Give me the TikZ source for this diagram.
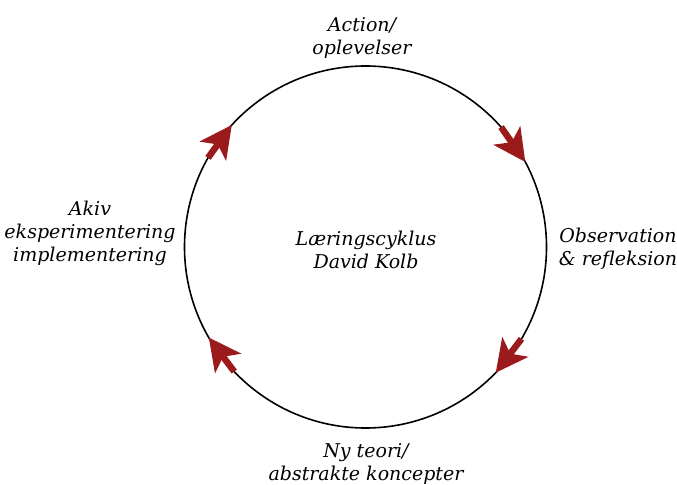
\documentclass[tikz,border=0pt]{standalone}
\usepackage{fontspec}
\setmainfont{DejaVu Serif}
\usetikzlibrary{arrows.meta}
\definecolor{arrred}{HTML}{9B1A1C}
\tikzset{
  lbl/.style={align=center, inner sep=0pt, font=\itshape\fontsize{19bp}{23bp}\selectfont},
  cyc/.style={draw=black, line width=1.6bp},
  arr/.style={draw=arrred, fill=arrred, line width=6.5bp, -{Stealth[length=32bp, width=32bp, inset=8bp]}}
}
\begin{document}
\begin{tikzpicture}[x=1bp,y=-1bp]
\useasboundingbox (0,0) rectangle (677,485);
\coordinate (c) at (365.5,247);
\draw[cyc] (c) circle[radius=181bp];
% arrows (chords of the cycle)
\path (c) ++(-41.5:181) coordinate (a1s);
\path (c) ++(-28:181) coordinate (a1t);
\path (c) ++(30.5:181) coordinate (a2s);
\path (c) ++(44:181) coordinate (a2t);
\path (c) ++(136.5:181) coordinate (a3s);
\path (c) ++(150:181) coordinate (a3t);
\path (c) ++(209.5:181) coordinate (a4s);
\path (c) ++(222.4:181) coordinate (a4t);
\draw[arr] (a1s) -- (a1t);
\draw[arr] (a2s) -- (a2t);
\draw[arr] (a3s) -- (a3t);
\draw[arr] (a4s) -- (a4t);
% labels
\node[lbl] (top) at (362,38) {Action/\\oplevelser};
\node[lbl] (right) at (618,249) {Observation\\\& refleksion};
\node[lbl] (bottom) at (366,464) {Ny teori/\\abstrakte koncepter};
\node[lbl] (left) at (90,233) {Akiv\\eksperimentering\\implementering};
\node[lbl] (mid) at (366,250) {Læringscyklus\\David Kolb};
\end{tikzpicture}
\end{document}
